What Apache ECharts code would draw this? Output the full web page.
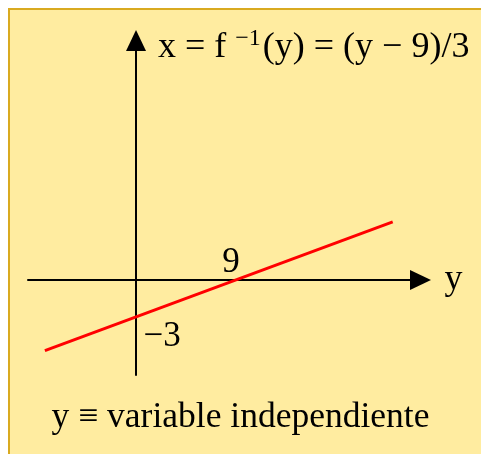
<!DOCTYPE html>
<html>
<head>
<meta charset="utf-8">
<script src="https://cdn.jsdelivr.net/npm/echarts@6/dist/echarts.min.js"></script>
<style>
  html, body { margin: 0; padding: 0; background: #fff; }
  #box { position: absolute; left: 8px; top: 8px; width: 480px; height: 460px;
         background: #ffeca0; border: 2px solid #d9aa20; }
  #main { position: absolute; left: 0; top: 0; width: 481px; height: 454px; }
</style>
</head>
<body>
<div id="box"></div>
<div id="main"></div>
<script>
  // horizontal axis = y (independent), vertical axis = x = (y - 9) / 3
  var yVals = [-8.2, 23.1];
  var xVals = [-5.73, 4.71];
  var tickY = [9, 0];
  var tickX = [0, -3];
  var tickLabels = ['9', '−3'];

  var lineData = yVals.map(function (v, i) { return [v, xVals[i]]; });
  var font = '"Liberation Serif", "DejaVu Serif", serif';

  var chart = echarts.init(document.getElementById('main'));
  var option = {
    animation: false,
    backgroundColor: 'transparent',
    grid: { left: 28, right: 60.5, top: 40.5, bottom: 79 },
    title: {
      left: 153, top: 22,
      text: 'x = f {sup|−1}(y) = (y − 9)/3',
      textStyle: {
        fontFamily: font, fontSize: 36, fontWeight: 'normal', color: '#000',
        rich: {
          sup: { fontFamily: font, fontSize: 24, color: '#000', padding: [0, 2, 18, 0] }
        }
      }
    },
    xAxis: {
      type: 'value', min: -9.72, max: 25.6,
      name: 'y', nameGap: 24,
      nameTextStyle: { fontFamily: font, fontSize: 36, color: '#000', padding: [0, 0, 8, 0] },
      axisLine: { onZero: true, symbol: ['none', 'triangle'], symbolSize: [20, 21],
                  lineStyle: { color: '#000', width: 2 } },
      axisTick: { show: false }, axisLabel: { show: false }, splitLine: { show: false }
    },
    yAxis: {
      type: 'value', min: -7.7, max: 19.42,
      axisLine: { onZero: true, symbol: ['none', 'triangle'], symbolSize: [20, 21],
                  lineStyle: { color: '#000', width: 2 } },
      axisTick: { show: false }, axisLabel: { show: false }, splitLine: { show: false }
    },
    series: [
      {
        type: 'line', data: lineData, symbol: 'none',
        lineStyle: { color: '#ff0000', width: 3 }
      },
      {
        type: 'scatter', symbolSize: 0, silent: true,
        itemStyle: { opacity: 1 },
        data: tickY.map(function (v, i) { return { value: [v, tickX[i]], name: tickLabels[i] }; }),
        label: {
          show: true, position: 'inside', formatter: '{b}',
          fontFamily: font, fontSize: 35, color: '#000', opacity: 1
        },
        labelLayout: function (p) {
          return p.dataIndex === 0 ? { dx: -5, dy: -17 } : { dx: 26, dy: 20 };
        }
      }
    ],
    graphic: [{
      type: 'text', left: 'center', top: 400,
      style: { text: 'y ≡ variable independiente', fontFamily: font, fontSize: 35.5, fill: '#000' }
    }]
  };
  chart.setOption(option);
</script>
</body>
</html>
